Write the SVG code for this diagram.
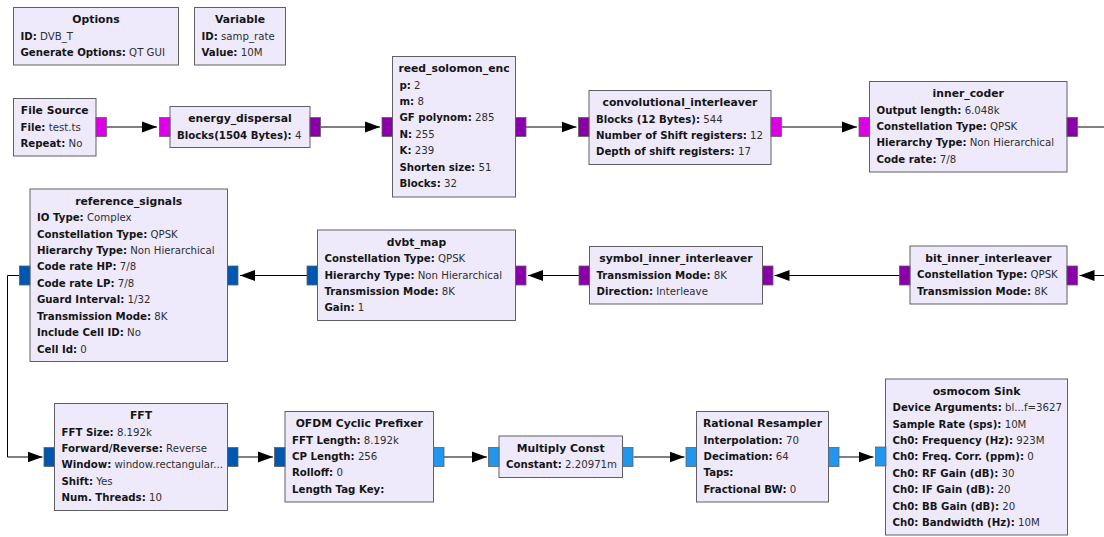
<svg xmlns="http://www.w3.org/2000/svg" width="1104" height="537" viewBox="0 0 1104 537">
<style>
.blk{fill:#EEEAFC;stroke:#606060;stroke-width:1}
text{font-family:"DejaVu Sans","Liberation Sans",sans-serif;font-size:10.2px;fill:#2e2e2e}
.t{font-weight:bold;text-anchor:middle;fill:#151515;font-size:10.8px}
.k{font-weight:bold;fill:#151515}
.pm{fill:#DD00E6;stroke:#606060;stroke-width:0.8}
.pp{fill:#8A00A8;stroke:#606060;stroke-width:0.8}
.pd{fill:#0057B0;stroke:#606060;stroke-width:0.8}
.pl{fill:#2196EE;stroke:#606060;stroke-width:0.8}
.c{fill:none;stroke:#000;stroke-width:1}
</style>
<defs>
<marker id="ah" markerUnits="userSpaceOnUse" markerWidth="16" markerHeight="12" refX="15" refY="6" orient="auto">
<path d="M0,0.5 L15,6 L0,11.5 z" fill="#000"/>
</marker>
</defs>
<rect width="1104" height="537" fill="#ffffff"/>

<g id="connectors">
<path class="c" d="M106.5,127 H157" marker-end="url(#ah)"/>
<path class="c" d="M320.5,127 H380" marker-end="url(#ah)"/>
<path class="c" d="M526,127 H576.5" marker-end="url(#ah)"/>
<path class="c" d="M781.5,127 H857" marker-end="url(#ah)"/>
<path class="c" d="M1077.5,127 H1104"/>
<path class="c" d="M1104,275.5 H1079.5" marker-end="url(#ah)"/>
<path class="c" d="M900,275.5 H774.5" marker-end="url(#ah)"/>
<path class="c" d="M579,275.5 H528" marker-end="url(#ah)"/>
<path class="c" d="M307,275.5 H240" marker-end="url(#ah)"/>
<path class="c" d="M19.5,275.5 H7.5 V457 H42.5" marker-end="url(#ah)"/>
<path class="c" d="M238,457 H273" marker-end="url(#ah)"/>
<path class="c" d="M444,457 H487" marker-end="url(#ah)"/>
<path class="c" d="M633.5,457 H684.5" marker-end="url(#ah)"/>
<path class="c" d="M839,457 H873.5" marker-end="url(#ah)"/>
</g>

<g id="options">
<rect class="blk" x="13.5" y="7.5" width="165" height="57.5"/>
<text class="t" x="96" y="23.1">Options</text>
<text x="20.5" y="39.5"><tspan class="k">ID:</tspan> DVB_T</text>
<text x="20.5" y="56"><tspan class="k">Generate Options:</tspan> QT GUI</text>
</g>

<g id="variable">
<rect class="blk" x="194.5" y="7.5" width="91" height="57.5"/>
<text class="t" x="240" y="23.1">Variable</text>
<text x="201.5" y="39.5"><tspan class="k">ID:</tspan> samp_rate</text>
<text x="201.5" y="56"><tspan class="k">Value:</tspan> 10M</text>
</g>

<g id="file_source">
<rect class="blk" x="13.5" y="98.5" width="82.5" height="57.5"/>
<rect class="pm" x="96" y="117.5" width="10.5" height="19"/>
<text class="t" x="54.75" y="114.1">File Source</text>
<text x="20.5" y="130.5"><tspan class="k">File:</tspan> test.ts</text>
<text x="20.5" y="147"><tspan class="k">Repeat:</tspan> No</text>
</g>

<g id="energy_dispersal">
<rect class="blk" x="170" y="106.5" width="140" height="41"/>
<rect class="pm" x="159.5" y="117.5" width="10.5" height="19"/>
<rect class="pp" x="310" y="117.5" width="10.5" height="19"/>
<text class="t" x="240" y="122.1">energy_dispersal</text>
<text x="177" y="138.5"><tspan class="k">Blocks(1504 Bytes):</tspan> 4</text>
</g>

<g id="reed_solomon_enc">
<rect class="blk" x="392.5" y="56.5" width="123" height="140.5"/>
<rect class="pp" x="382" y="117.5" width="10.5" height="19"/>
<rect class="pp" x="515.5" y="117.5" width="10.5" height="19"/>
<text class="t" x="454" y="72.1">reed_solomon_enc</text>
<text x="399.5" y="88.5"><tspan class="k">p:</tspan> 2</text>
<text x="399.5" y="105"><tspan class="k">m:</tspan> 8</text>
<text x="399.5" y="121.4"><tspan class="k">GF polynom:</tspan> 285</text>
<text x="399.5" y="137.9"><tspan class="k">N:</tspan> 255</text>
<text x="399.5" y="154.3"><tspan class="k">K:</tspan> 239</text>
<text x="399.5" y="170.8"><tspan class="k">Shorten size:</tspan> 51</text>
<text x="399.5" y="187.2"><tspan class="k">Blocks:</tspan> 32</text>
</g>

<g id="convolutional_interleaver">
<rect class="blk" x="589" y="90.5" width="182" height="74"/>
<rect class="pp" x="578.5" y="117.5" width="10.5" height="19"/>
<rect class="pm" x="771" y="117.5" width="10.5" height="19"/>
<text class="t" x="680" y="106.1">convolutional_interleaver</text>
<text x="596" y="122.5"><tspan class="k">Blocks (12 Bytes):</tspan> 544</text>
<text x="596" y="139"><tspan class="k">Number of Shift registers:</tspan> 12</text>
<text x="596" y="155.4"><tspan class="k">Depth of shift registers:</tspan> 17</text>
</g>

<g id="inner_coder">
<rect class="blk" x="869.5" y="81.5" width="197.5" height="90.5"/>
<rect class="pm" x="859" y="117.5" width="10.5" height="19"/>
<rect class="pp" x="1067" y="117.5" width="10.5" height="19"/>
<text class="t" x="968.25" y="97.1">inner_coder</text>
<text x="876.5" y="113.5"><tspan class="k">Output length:</tspan> 6.048k</text>
<text x="876.5" y="130"><tspan class="k">Constellation Type:</tspan> QPSK</text>
<text x="876.5" y="146.4"><tspan class="k">Hierarchy Type:</tspan> Non Hierarchical</text>
<text x="876.5" y="162.9"><tspan class="k">Code rate:</tspan> 7/8</text>
</g>

<g id="reference_signals">
<rect class="blk" x="30" y="189" width="197.5" height="172.5"/>
<rect class="pd" x="19.5" y="266" width="10.5" height="19"/>
<rect class="pd" x="227.5" y="266" width="10.5" height="19"/>
<text class="t" x="128.75" y="204.6">reference_signals</text>
<text x="37" y="221"><tspan class="k">IO Type:</tspan> Complex</text>
<text x="37" y="237.5"><tspan class="k">Constellation Type:</tspan> QPSK</text>
<text x="37" y="253.9"><tspan class="k">Hierarchy Type:</tspan> Non Hierarchical</text>
<text x="37" y="270.4"><tspan class="k">Code rate HP:</tspan> 7/8</text>
<text x="37" y="286.8"><tspan class="k">Code rate LP:</tspan> 7/8</text>
<text x="37" y="303.3"><tspan class="k">Guard Interval:</tspan> 1/32</text>
<text x="37" y="319.7"><tspan class="k">Transmission Mode:</tspan> 8K</text>
<text x="37" y="336.2"><tspan class="k">Include Cell ID:</tspan> No</text>
<text x="37" y="352.6"><tspan class="k">Cell Id:</tspan> 0</text>
</g>

<g id="dvbt_map">
<rect class="blk" x="317.5" y="230" width="198" height="90.5"/>
<rect class="pd" x="307" y="266" width="10.5" height="19"/>
<rect class="pp" x="515.5" y="266" width="10.5" height="19"/>
<text class="t" x="416.5" y="245.6">dvbt_map</text>
<text x="324.5" y="262"><tspan class="k">Constellation Type:</tspan> QPSK</text>
<text x="324.5" y="278.5"><tspan class="k">Hierarchy Type:</tspan> Non Hierarchical</text>
<text x="324.5" y="294.9"><tspan class="k">Transmission Mode:</tspan> 8K</text>
<text x="324.5" y="311.4"><tspan class="k">Gain:</tspan> 1</text>
</g>

<g id="symbol_inner_interleaver">
<rect class="blk" x="589.5" y="246.5" width="173" height="57.5"/>
<rect class="pp" x="579" y="266" width="10.5" height="19"/>
<rect class="pp" x="762.5" y="266" width="10.5" height="19"/>
<text class="t" x="676" y="262.1">symbol_inner_interleaver</text>
<text x="596.5" y="278.5"><tspan class="k">Transmission Mode:</tspan> 8K</text>
<text x="596.5" y="295"><tspan class="k">Direction:</tspan> Interleave</text>
</g>

<g id="bit_inner_interleaver">
<rect class="blk" x="910" y="246" width="157" height="58"/>
<rect class="pp" x="899.5" y="266" width="10.5" height="19"/>
<rect class="pp" x="1067" y="266" width="10.5" height="19"/>
<text class="t" x="988.5" y="261.6">bit_inner_interleaver</text>
<text x="917" y="278"><tspan class="k">Constellation Type:</tspan> QPSK</text>
<text x="917" y="294.5"><tspan class="k">Transmission Mode:</tspan> 8K</text>
</g>

<g id="fft">
<rect class="blk" x="54.5" y="403.5" width="173" height="107"/>
<rect class="pd" x="44" y="447.5" width="10.5" height="19"/>
<rect class="pd" x="227.5" y="447.5" width="10.5" height="19"/>
<text class="t" x="141" y="419.1">FFT</text>
<text x="61.5" y="435.5"><tspan class="k">FFT Size:</tspan> 8.192k</text>
<text x="61.5" y="452"><tspan class="k">Forward/Reverse:</tspan> Reverse</text>
<text x="61.5" y="468.4"><tspan class="k">Window:</tspan> window.rectangular...</text>
<text x="61.5" y="484.9"><tspan class="k">Shift:</tspan> Yes</text>
<text x="61.5" y="501.3"><tspan class="k">Num. Threads:</tspan> 10</text>
</g>

<g id="ofdm_cyclic_prefixer">
<rect class="blk" x="285" y="411.5" width="148.5" height="90.5"/>
<rect class="pd" x="274.5" y="447.5" width="10.5" height="19"/>
<rect class="pl" x="433.5" y="447.5" width="10.5" height="19"/>
<text class="t" x="359.25" y="427.1">OFDM Cyclic Prefixer</text>
<text x="292" y="443.5"><tspan class="k">FFT Length:</tspan> 8.192k</text>
<text x="292" y="460"><tspan class="k">CP Length:</tspan> 256</text>
<text x="292" y="476.4"><tspan class="k">Rolloff:</tspan> 0</text>
<text x="292" y="492.9"><tspan class="k">Length Tag Key:</tspan></text>
</g>

<g id="multiply_const">
<rect class="blk" x="499" y="436" width="123.5" height="41.5"/>
<rect class="pl" x="488.5" y="447.5" width="10.5" height="19"/>
<rect class="pl" x="622.5" y="447.5" width="10.5" height="19"/>
<text class="t" x="560.75" y="451.6">Multiply Const</text>
<text x="506" y="468"><tspan class="k">Constant:</tspan> 2.20971m</text>
</g>

<g id="rational_resampler">
<rect class="blk" x="696.5" y="411.5" width="132" height="90.5"/>
<rect class="pl" x="686" y="447.5" width="10.5" height="19"/>
<rect class="pl" x="828.5" y="447.5" width="10.5" height="19"/>
<text class="t" x="762.5" y="427.1">Rational Resampler</text>
<text x="703.5" y="443.5"><tspan class="k">Interpolation:</tspan> 70</text>
<text x="703.5" y="460"><tspan class="k">Decimation:</tspan> 64</text>
<text x="703.5" y="476.4"><tspan class="k">Taps:</tspan></text>
<text x="703.5" y="492.9"><tspan class="k">Fractional BW:</tspan> 0</text>
</g>

<g id="osmocom_sink">
<rect class="blk" x="885.5" y="379" width="182" height="156"/>
<rect class="pl" x="875.5" y="447" width="10.5" height="19"/>
<text class="t" x="976.5" y="394.6">osmocom Sink</text>
<text x="892.5" y="411"><tspan class="k">Device Arguments:</tspan> bl...f=3627</text>
<text x="892.5" y="427.5"><tspan class="k">Sample Rate (sps):</tspan> 10M</text>
<text x="892.5" y="443.9"><tspan class="k">Ch0: Frequency (Hz):</tspan> 923M</text>
<text x="892.5" y="460.4"><tspan class="k">Ch0: Freq. Corr. (ppm):</tspan> 0</text>
<text x="892.5" y="476.8"><tspan class="k">Ch0: RF Gain (dB):</tspan> 30</text>
<text x="892.5" y="493.3"><tspan class="k">Ch0: IF Gain (dB):</tspan> 20</text>
<text x="892.5" y="509.7"><tspan class="k">Ch0: BB Gain (dB):</tspan> 20</text>
<text x="892.5" y="526.2"><tspan class="k">Ch0: Bandwidth (Hz):</tspan> 10M</text>
</g>
</svg>
